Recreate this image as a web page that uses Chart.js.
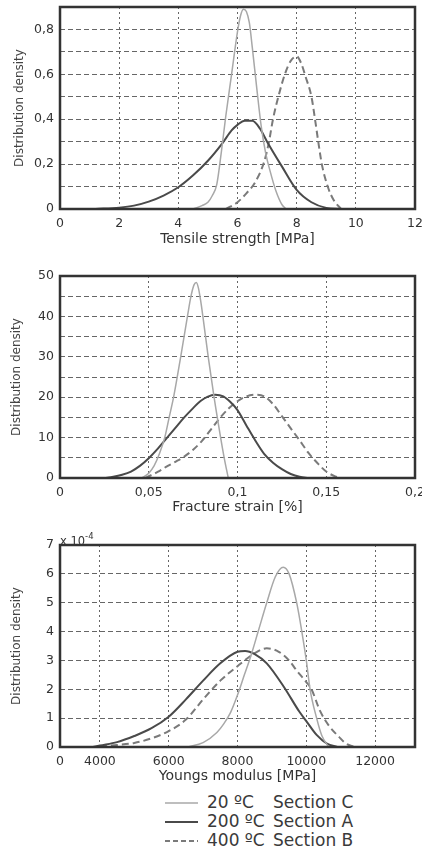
<!DOCTYPE html>
<html>
<head>
<meta charset="utf-8">
<script src="https://cdn.jsdelivr.net/npm/chart.js@4/dist/chart.umd.min.js"></script>
<style>
html,body{margin:0;padding:0;background:#fff;}
body{width:422px;height:851px;position:relative;overflow:hidden;font-family:"DejaVu Sans",sans-serif;color:#333;}
.cw{position:absolute;left:0;width:422px;}
.row{position:absolute;left:0;width:422px;height:19px;line-height:19px;font-size:17px;color:#3a3a3a;}
.row svg{position:absolute;left:165px;top:8px;}
.row .t{position:absolute;left:207px;}
.row .s{position:absolute;left:273px;}
#mult{position:absolute;left:60px;top:531px;font-size:11.5px;line-height:13px;color:#333;}
#mult sup{font-size:8.5px;position:relative;top:-1px;}
</style>
</head>
<body>
<div class="cw" style="top:0;height:250px"><canvas id="c1"></canvas></div>
<div class="cw" style="top:250px;height:270px"><canvas id="c2"></canvas></div>
<div class="cw" style="top:520px;height:270px"><canvas id="c3"></canvas></div>
<div id="mult">x 10<sup>-4</sup></div>
<div class="row" style="top:793px"><svg width="34" height="4"><line x1="0" y1="2" x2="33" y2="2" stroke="#a8a8a8" stroke-width="1.5"/></svg><span class="t">20 ºC</span><span class="s">Section C</span></div>
<div class="row" style="top:812px"><svg width="34" height="4"><line x1="0" y1="2" x2="33" y2="2" stroke="#4a4a4a" stroke-width="2"/></svg><span class="t">200 ºC</span><span class="s">Section A</span></div>
<div class="row" style="top:831px"><svg width="34" height="4"><line x1="0" y1="2" x2="33" y2="2" stroke="#7a7a7a" stroke-width="2" stroke-dasharray="5,3"/></svg><span class="t">400 ºC</span><span class="s">Section B</span></div>
<script>
// ---------- Series labels ----------
const seriesNames = ['20 ºC  Section C', '200 ºC  Section A', '400 ºC  Section B'];

// ---------- Tensile strength [MPa] ----------
const ts20x = [4.5,4.8,5.0,5.15,5.3,5.45,5.6,5.8,6.0,6.1,6.2,6.3,6.4,6.5,6.65,6.8,6.95,7.1,7.3,7.5,7.65];
const ts20y = [0,0.015,0.03,0.06,0.11,0.25,0.41,0.6,0.79,0.86,0.89,0.88,0.83,0.72,0.54,0.37,0.25,0.17,0.08,0.02,0];
const ts200x = [1.2,2.0,2.5,3.0,3.5,4.0,4.5,5.0,5.5,5.8,6.0,6.25,6.5,6.75,7.0,7.5,8.0,8.5,9.0,9.5];
const ts200y = [0,0.006,0.015,0.033,0.06,0.097,0.15,0.215,0.295,0.35,0.375,0.393,0.393,0.36,0.3,0.19,0.085,0.03,0.005,0];
const ts400x = [5.6,6.0,6.3,6.6,6.9,7.05,7.2,7.4,7.6,7.8,8.0,8.15,8.3,8.5,8.62,8.73,8.85,9.05,9.25,9.5];
const ts400y = [0,0.03,0.07,0.12,0.21,0.29,0.4,0.51,0.6,0.66,0.68,0.65,0.59,0.5,0.4,0.3,0.2,0.1,0.04,0];
const tsTicksX = [0,2,4,6,8,10,12];
const tsLabelsX = ['0','2','4','6','8','10','12'];
const tsTicksY = [0,0.1,0.2,0.3,0.4,0.5,0.6,0.7,0.8,0.9];
const tsLabelsY = ['0','','0,2','','0,4','','0,6','','0,8',''];

// ---------- Fracture strain [%] ----------
const fs20x = [0.046,0.05,0.053,0.056,0.059,0.0615,0.064,0.068,0.0718,0.0738,0.0755,0.0768,0.078,0.0792,0.0805,0.0835,0.0868,0.0905,0.0925,0.0948];
const fs20y = [0,1.2,3,6,10,15,20,30,40,45,47.8,48.4,47,44,40,30,20,10,5,0];
const fs200x = [0.025,0.03,0.035,0.04,0.045,0.05,0.055,0.06,0.065,0.07,0.075,0.079,0.083,0.0875,0.092,0.096,0.1,0.105,0.11,0.115,0.12,0.125,0.13,0.135,0.14];
const fs200y = [0,0.3,0.8,1.6,3.0,4.9,7.2,9.8,12.4,15,17.3,19.0,20.1,20.6,20.2,18.8,16.8,13,9.3,6,3.8,2.2,1,0.3,0];
const fs400x = [0.048,0.055,0.06,0.065,0.07,0.075,0.08,0.085,0.09,0.095,0.1,0.105,0.11,0.115,0.12,0.125,0.13,0.135,0.14,0.145,0.15,0.155,0.158];
const fs400y = [0,1.5,2.8,4,5.3,7,9.2,12,14.8,17.2,19,20.2,20.6,20.2,18.3,15.3,12.3,9.3,6.2,3.7,1.6,0.4,0];
const fsTicksX = [0,0.05,0.1,0.15,0.2];
const fsLabelsX = ['0','0,05','0,1','0,15','0,2'];
const fsTicksY = [0,5,10,15,20,25,30,35,40,45,50];
const fsLabelsY = ['0','','10','','20','','30','','40','','50'];

// ---------- Youngs modulus [MPa] (density x 10^-4) ----------
const ym20x = [6550,7000,7400,7600,7800,8000,8200,8400,8600,8850,9100,9330,9500,9720,9870,10000,10110,10300,10450,10650];
const ym20y = [0,0.15,0.5,0.8,1.2,1.8,2.5,3.2,4.0,5.0,5.9,6.23,6.0,5.0,4.0,3.0,2.0,1.0,0.4,0];
const ym200x = [3800,4000,4500,5000,5500,6000,6500,7000,7500,8000,8220,8500,8850,9350,9800,10000,10300,10600,10900];
const ym200y = [0,0.05,0.17,0.38,0.65,1.05,1.65,2.3,2.9,3.3,3.33,3.22,2.9,2.08,1.22,0.9,0.42,0.12,0];
const ym400x = [4000,4500,5000,5500,6000,6500,7000,7500,8000,8500,8850,9200,9500,9720,10000,10150,10400,10650,10950,11150,11400];
const ym400y = [0.02,0.07,0.14,0.3,0.55,0.95,1.65,2.3,2.8,3.25,3.42,3.3,3.0,2.65,2.25,2.0,1.25,0.75,0.35,0.12,0];
const ymRange = [2840, 13160];
const ymTicksX = [2840,4000,6000,8000,10000,12000];
const ymLabelsX = ['0','4000','6000','8000','10000','12000'];
const ymTicksY = [0,1,2,3,4,5,6,7];
const ymLabelsY = ['0','1','2','3','4','5','6','7'];

// ---------- helpers ----------
const FONT = '"DejaVu Sans", "Liberation Sans", sans-serif';
const pts = (xs, ys) => xs.map((x, i) => ({x: x, y: ys[i]}));
const framePlugin = {
  id: 'frame',
  afterDatasetsDraw(chart) {
    const {ctx, chartArea: a} = chart;
    ctx.save();
    ctx.strokeStyle = '#333';
    ctx.lineWidth = 2.5;
    ctx.setLineDash([]);
    ctx.strokeRect(a.left, a.top, a.right - a.left, a.bottom - a.top);
    ctx.restore();
  }
};

function makeChart(id, o) {
  const styles = [
    {borderColor: '#a8a8a8', borderWidth: 1.5, borderDash: []},
    {borderColor: '#4a4a4a', borderWidth: 2, borderDash: []},
    {borderColor: '#7a7a7a', borderWidth: 2, borderDash: [7, 4]}
  ];
  return new Chart(document.getElementById(id), {
    type: 'line',
    data: {
      datasets: o.series.map((s, i) => Object.assign({
        label: seriesNames[i],
        data: pts(s[0], s[1]),
        pointRadius: 0,
        fill: false,
        cubicInterpolationMode: 'monotone'
      }, styles[i]))
    },
    options: {
      responsive: true,
      maintainAspectRatio: false,
      animation: false,
      events: [],
      layout: {padding: {top: o.padTop, right: 7, left: 0, bottom: 0}},
      plugins: {legend: {display: false}, tooltip: {enabled: false}},
      scales: {
        x: {
          type: 'linear',
          min: o.xMin, max: o.xMax,
          afterBuildTicks: s => { s.ticks = o.xTicks.map(v => ({value: v})); },
          afterFit: s => { s.height = o.xHeight; s.paddingLeft = 0; s.paddingRight = 0; },
          ticks: {
            autoSkip: false, maxRotation: 0, padding: 8, color: '#333',
            font: {family: FONT, size: 12.5, lineHeight: 1},
            callback: (v, i) => o.xLabels[i]
          },
          grid: {color: '#666', lineWidth: 1, drawTicks: false},
          border: {display: false, dash: [2, 3]},
          title: {display: true, text: o.xTitle, color: '#333',
                  font: {family: FONT, size: 14}, padding: {top: 0, bottom: o.titlePad}}
        },
        y: {
          min: 0, max: o.yMax,
          afterBuildTicks: s => { s.ticks = o.yTicks.map(v => ({value: v})); },
          afterFit: s => { s.width = 60; s.paddingTop = 0; s.paddingBottom = 0; },
          ticks: {
            autoSkip: false, padding: 6, color: '#333',
            font: {family: FONT, size: 12.5, lineHeight: 1},
            callback: (v, i) => o.yLabels[i]
          },
          grid: {color: '#666', lineWidth: 1, drawTicks: false},
          border: {display: false, dash: [5, 3]},
          title: {display: true, text: 'Distribution density', color: '#444',
                  font: {family: FONT, size: 12}, padding: {top: o.yTitlePad, bottom: 0}}
        }
      }
    },
    plugins: [framePlugin]
  });
}

makeChart('c1', {
  series: [[ts20x, ts20y], [ts200x, ts200y], [ts400x, ts400y]],
  xMin: 0, xMax: 12, xTicks: tsTicksX, xLabels: tsLabelsX,
  yMax: 0.9, yTicks: tsTicksY, yLabels: tsLabelsY,
  xTitle: 'Tensile strength [MPa]',
  padTop: 7, xHeight: 41, titlePad: 2.6, yTitlePad: 13
});
makeChart('c2', {
  series: [[fs20x, fs20y], [fs200x, fs200y], [fs400x, fs400y]],
  xMin: 0, xMax: 0.2, xTicks: fsTicksX, xLabels: fsLabelsX,
  yMax: 50, yTicks: fsTicksY, yLabels: fsLabelsY,
  xTitle: 'Fracture strain [%]',
  padTop: 26, xHeight: 42, titlePad: 4.6, yTitlePad: 10
});
makeChart('c3', {
  series: [[ym20x, ym20y], [ym200x, ym200y], [ym400x, ym400y]],
  xMin: ymRange[0], xMax: ymRange[1], xTicks: ymTicksX, xLabels: ymLabelsX,
  yMax: 7, yTicks: ymTicksY, yLabels: ymLabelsY,
  xTitle: 'Youngs modulus [MPa]',
  padTop: 25, xHeight: 43, titlePad: 5.6, yTitlePad: 10
});
</script>
</body>
</html>
